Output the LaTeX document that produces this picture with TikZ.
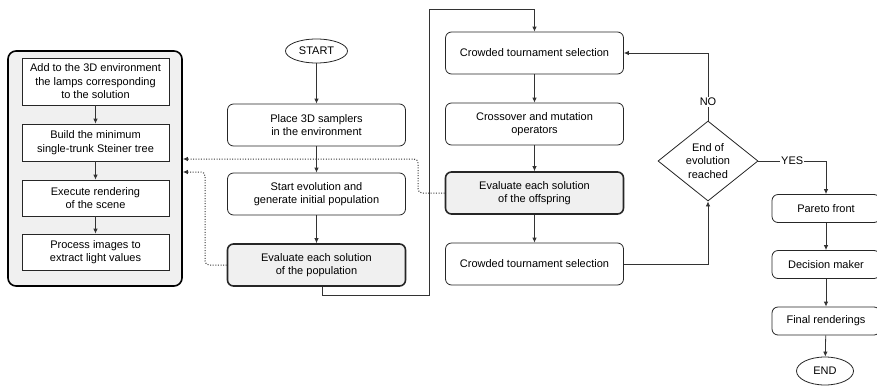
\documentclass[tikz,border=0pt]{standalone}
\usepackage{fontspec}
\setmainfont{Liberation Sans}
\usetikzlibrary{arrows.meta,shapes.geometric,calc}
\begin{document}
\begin{tikzpicture}[x=1pt,y=-1pt,
  font=\fontsize{11}{13.5}\selectfont,
  box/.style={draw=black!85,line width=0.8pt,rounded corners=6pt,align=center,inner sep=0pt,fill=white,minimum width=178pt,minimum height=42pt},
  hbox/.style={box,fill=black!6,line width=1.6pt},
  sbox/.style={draw=black!85,line width=0.8pt,align=center,inner sep=0pt,fill=white,minimum width=147pt},
  rbox/.style={box,minimum width=108pt,minimum height=28pt},
  term/.style={ellipse,draw=black!85,line width=0.8pt,inner sep=0pt,fill=white},
  arr/.style={draw=black!80,line width=0.8pt,-{Latex[length=5pt,width=4.5pt]}},
  dotarr/.style={arr,line width=1pt,dash pattern=on 1pt off 1.6pt,rounded corners=4pt},
  lbl/.style={fill=white,inner sep=1pt}
]
\useasboundingbox (0,0) rectangle (877,386);

% left container
\node[draw=black,rounded corners=8pt,fill=black!6,line width=1.6pt,minimum width=174pt,minimum height=235pt,inner sep=0pt] (cont) at (95,168.5) {};
\node[sbox,minimum height=47pt] (b1) at (95.5,81.5) {Add to the 3D environment\\the lamps corresponding\\to the solution};
\node[sbox,minimum height=37pt] (b2) at (95.5,142.5) {Build the minimum\\single-trunk Steiner tree};
\node[sbox,minimum height=36pt] (b3) at (95.5,198) {Execute rendering\\of the scene};
\node[sbox,minimum height=36pt] (b4) at (95.5,252) {Process images to\\extract light values};
\draw[arr] (b1) -- (b2);
\draw[arr] (b2) -- (b3);
\draw[arr] (b3) -- (b4);

% middle column
\node[term,minimum width=62pt,minimum height=24pt] (start) at (316.5,51) {START};
\node[box] (place) at (316.5,125) {Place 3D samplers\\in the environment};
\node[box] (sevo) at (316.5,194) {Start evolution and\\generate initial population};
\node[hbox] (ep) at (316.5,265) {Evaluate each solution\\of the population};
\draw[arr] (start) -- (place);
\draw[arr] (place) -- (sevo);
\draw[arr] (sevo) -- (ep);

% second column
\node[box] (ct1) at (534.5,53) {Crowded tournament selection};
\node[box] (co) at (534.5,124) {Crossover and mutation\\operators};
\node[hbox] (eo) at (534.5,193) {Evaluate each solution\\of the offspring};
\node[box] (ct2) at (534.5,264) {Crowded tournament selection};
\draw[arr] (ct1) -- (co);
\draw[arr] (co) -- (eo);
\draw[arr] (eo) -- (ct2);

\coordinate (p2) at (429,295);
\coordinate (p3) at (429,9);
\draw[arr] (ep.south) ++(6,0) |- (p2) -- (p3) -| (ct1);

% decision
\node[diamond,draw=black!85,line width=0.8pt,fill=white,align=center,inner sep=0pt,minimum width=100pt,minimum height=80pt] (dia) at (708,161) {End of\\evolution\\reached};
\draw[arr] (ct2.east) -| (dia.south);
\draw[arr] (dia.north) |- node[lbl,pos=0.14]{NO} (ct1.east);

% right column
\node[rbox] (par) at (826,208.5) {Pareto front};
\node[rbox] (dec) at (826,264.5) {Decision maker};
\node[rbox] (fin) at (826,321) {Final renderings};
\node[term,minimum width=57pt,minimum height=28pt] (end) at (825,371) {END};
\draw[arr] (dia.east) -| node[lbl,pos=0.25]{YES} (par.north);
\draw[arr] (par) -- (dec);
\draw[arr] (dec) -- (fin);
\draw[arr] (fin) -- (end);

% dotted feedback
\coordinate (d1) at (418,159);
\coordinate (d2) at (205,172);
\draw[dotarr] (eo.west) -| (d1) -- (cont.east |- d1);
\draw[dotarr] (ep.west) -| (d2) -- (cont.east |- d2);
\end{tikzpicture}
\end{document}
